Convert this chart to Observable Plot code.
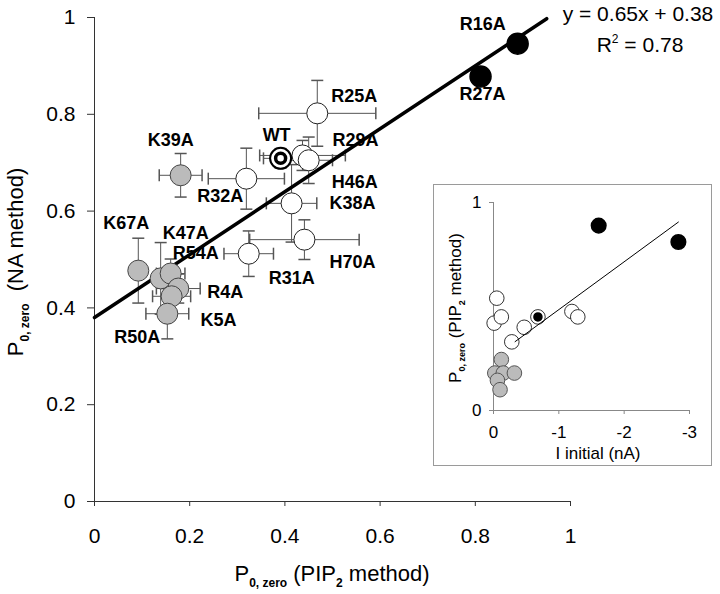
<!DOCTYPE html>
<html><head><meta charset="utf-8">
<script src="https://cdn.jsdelivr.net/npm/d3@7"></script>
<script src="https://cdn.jsdelivr.net/npm/@observablehq/plot@0.6"></script>
<style>
body{margin:0;background:#fff;}
#wrap{position:relative;width:720px;height:594px;font-family:"Liberation Sans",Arial,sans-serif;}
#inset{position:absolute;left:433px;top:184px;width:277px;height:280px;border:1px solid #9a9a9a;background:#fff;}
#inset svg,#main svg{display:block;}
</style></head><body><div id="wrap"><div id="main"></div><div id="inset"></div></div>
<script>
// ---------- main panel data ----------
const mutants  = ["R16A","R27A","R25A","WT","R29A","H46A","R32A","K38A","H70A","R31A","K39A","K67A","K47A","R54A","R4A","K5A","R50A"];
const pipValues = [0.889,0.811,0.468,0.391,0.437,0.450,0.319,0.414,0.441,0.324,0.181,0.092,0.139,0.160,0.176,0.162,0.153];
const naValues  = [0.946,0.878,0.802,0.709,0.715,0.705,0.667,0.616,0.541,0.512,0.674,0.477,0.461,0.471,0.440,0.424,0.388];
const pipErr    = [0.010,0.012,0.123,0.036,0.090,0.050,0.080,0.053,0.115,0.052,0.045,0.000,0.000,0.030,0.046,0.040,0.045];
const naErr     = [0.000,0.010,0.068,0.020,0.031,0.048,0.063,0.080,0.041,0.047,0.045,0.067,0.074,0.030,0.030,0.040,0.052];
const groups    = ["black","black","white","wt","white","white","white","white","white","white","gray","gray","gray","gray","gray","gray","gray"];
const fitSlope = 0.65, fitIntercept = 0.38, fitR2 = 0.78;
const fitRange = [0, 0.95];
const xTicks = [0,0.2,0.4,0.6,0.8,1];
const yTicks = [0,0.2,0.4,0.6,0.8,1];

// ---------- inset data ----------
const insetCurrent = [-1.61,-2.83,-0.05,-0.01,-0.12,-0.68,-0.47,-0.28,-1.20,-1.29,-0.12,-0.02,-0.15,-0.32,-0.06,-0.10];
const insetPo      = [0.889,0.810,0.540,0.420,0.450,0.450,0.400,0.330,0.476,0.450,0.245,0.180,0.180,0.180,0.145,0.100];
const insetGroups  = ["black","black","white","white","white","wt","white","white","white","white","gray","gray","gray","gray","gray","gray"];
const insetSlope = -0.23, insetIntercept = 0.255;
const insetFitRange = [-0.33, -2.83];
const insetXTicks = [0,-1,-2,-3];
const insetYTicks = [0,1];

// ---------- label placement (pixel offsets) ----------
const labelDx = [-35, 2, 37, -4, 53, 46, -26, 61, 48, 43, -10, -12, 25, 25, 47, 47, -30];
const labelDy = [-19, 18, -17, -23, -15, 22, 18, 0, 23, 25, -35, -47, -45, -20, 4, 24, 24];

const FONT = "'Liberation Sans', Arial, sans-serif";
const rows = mutants.map((m,i)=>({name:m,x:pipValues[i],y:naValues[i],ex:pipErr[i],ey:naErr[i],g:groups[i],dx:labelDx[i],dy:labelDy[i]}));
const capV = {draw(ctx,size){const r=Math.sqrt(size/Math.PI);ctx.moveTo(0,-r);ctx.lineTo(0,r);}};
const capH = {draw(ctx,size){const r=Math.sqrt(size/Math.PI);ctx.moveTo(-r,0);ctx.lineTo(r,0);}};
const fitLine = fitRange.map(x=>({x, y: fitSlope*x+fitIntercept}));
const exRows = rows.filter(d=>d.ex>0), eyRows = rows.filter(d=>d.ey>0);
const EB = "#555";

const main = Plot.plot({
  width:720, height:594, marginLeft:94, marginRight:150, marginTop:17, marginBottom:93,
  x:{domain:[0,1]}, y:{domain:[0,1]},
  style:{fontFamily:FONT, fontSize:"21px", color:"#000", background:"#fff", overflow:"visible"},
  marks:[
    Plot.axisX({ticks:xTicks, tickSize:5, tickPadding:22, label:null, tickFormat:d=>String(d), stroke:"#333"}),
    Plot.axisY({ticks:yTicks, tickSize:7, tickPadding:12, label:null, tickFormat:d=>String(d), stroke:"#333"}),
    Plot.ruleX([0],{stroke:"#333"}),
    Plot.ruleY([0],{stroke:"#333"}),
    // error bars
    Plot.link(exRows,{x1:d=>d.x-d.ex, x2:d=>d.x+d.ex, y1:"y", y2:"y", stroke:EB, strokeWidth:1}),
    Plot.link(eyRows,{x1:"x", x2:"x", y1:d=>d.y-d.ey, y2:d=>d.y+d.ey, stroke:EB, strokeWidth:1}),
    Plot.dot(exRows,{x:d=>d.x-d.ex, y:"y", symbol:capV, r:6, stroke:EB, fill:"none"}),
    Plot.dot(exRows,{x:d=>d.x+d.ex, y:"y", symbol:capV, r:6, stroke:EB, fill:"none"}),
    Plot.dot(eyRows,{x:"x", y:d=>d.y-d.ey, symbol:capH, r:6, stroke:EB, fill:"none"}),
    Plot.dot(eyRows,{x:"x", y:d=>d.y+d.ey, symbol:capH, r:6, stroke:EB, fill:"none"}),
    // white circles
    Plot.dot(rows.filter(d=>d.g==="white"||d.g==="wt"),{x:"x",y:"y",r:10.5,fill:"#fff",stroke:"#222",strokeWidth:1}),
    Plot.dot(rows.filter(d=>d.g==="wt"),{x:"x",y:"y",r:10.5,fill:"none",stroke:"#000",strokeWidth:2}),
    Plot.dot(rows.filter(d=>d.g==="wt"),{x:"x",y:"y",r:5,fill:"#fff",stroke:"#000",strokeWidth:3.5}),
    // regression line
    Plot.line(fitLine,{x:"x",y:"y",stroke:"#000",strokeWidth:3.5}),
    // gray + black
    Plot.dot(rows.filter(d=>d.g==="gray"),{x:"x",y:"y",r:10.5,fill:"#bbbbbb",stroke:"#444",strokeWidth:1}),
    Plot.dot(rows.filter(d=>d.g==="black"),{x:"x",y:"y",r:10.5,fill:"#000",stroke:"#000"}),
    // labels
    ...rows.map(d=>Plot.text([d],{x:"x",y:"y",text:"name",dx:d.dx,dy:d.dy,fontSize:18,fontWeight:"bold",fill:"#000"}))
  ]
});
document.getElementById("main").appendChild(main);

// titles with subscripts
function subTitle(svg, {x, y, rotate=0, size, sub, parts}){
  const t = d3.select(svg).append("text")
    .attr("transform", `translate(${x},${y}) rotate(${rotate})`)
    .attr("text-anchor","middle").attr("font-family",FONT).attr("font-size",size).attr("fill","#000");
  const sh = Math.round(size*0.25);
  parts.forEach(([s,isSub])=>{
    if(isSub) t.append("tspan").attr("font-size",sub).attr("font-weight","bold").attr("dy",sh).text(s);
    else t.append("tspan").attr("dy", t.selectAll("tspan").size()===0?0:-sh).text(s);
  });
}
const mainSvg = main.tagName.toLowerCase()==="svg"?main:main.querySelector("svg");
subTitle(mainSvg,{x:332,y:587,size:22,sub:12,parts:[["P"],["0, zero",true],[" (PIP"],["2",true],[" method)"]]});
subTitle(mainSvg,{x:29,y:262,rotate:-90,size:22,sub:12,parts:[["P"],["0, zero",true],["  (NA method)"]]});
// fit equation
d3.select(mainSvg).append("text").attr("x",638).attr("y",21).attr("text-anchor","middle")
  .attr("font-family",FONT).attr("font-size",21).attr("fill","#000").text(`y = ${fitSlope}x + ${fitIntercept}`);
const r2 = d3.select(mainSvg).append("text").attr("x",640).attr("y",52).attr("text-anchor","middle")
  .attr("font-family",FONT).attr("font-size",21).attr("fill","#000");
r2.append("tspan").text("R");
r2.append("tspan").attr("font-size",12).attr("dy",-9).text("2");
r2.append("tspan").attr("dy",9).text(` = ${fitR2}`);

// ---------- inset ----------
const irows = insetCurrent.map((c,i)=>({x:c,y:insetPo[i],g:insetGroups[i]}));
const insetLine = insetFitRange.map(x=>({x, y: insetSlope*x+insetIntercept}));
const inset = Plot.plot({
  width:277, height:280, marginLeft:59, marginRight:22, marginTop:17, marginBottom:55,
  x:{domain:[0,-3]}, y:{domain:[0,1]},
  style:{fontFamily:FONT, fontSize:"17px", color:"#000", background:"#fff", overflow:"visible"},
  marks:[
    Plot.axisX({ticks:insetXTicks, tickSize:4, tickPadding:11, label:null, tickFormat:d=>String(d), stroke:"#888"}),
    Plot.axisY({ticks:insetYTicks, tickSize:4, tickPadding:8, label:null, tickFormat:d=>String(d), stroke:"#888"}),
    Plot.ruleX([0],{stroke:"#888"}),
    Plot.ruleY([0],{stroke:"#888"}),
    Plot.dot(irows.filter(d=>d.g==="white"||d.g==="wt"),{x:"x",y:"y",r:7.3,fill:"#fff",stroke:"#333",strokeWidth:1}),
    Plot.dot(irows.filter(d=>d.g==="wt"),{x:"x",y:"y",r:4,fill:"#000",stroke:"#000"}),
    Plot.line(insetLine,{x:"x",y:"y",stroke:"#000",strokeWidth:1}),
    Plot.dot(irows.filter(d=>d.g==="gray"),{x:"x",y:"y",r:7.3,fill:"#bbbbbb",stroke:"#555",strokeWidth:1}),
    Plot.dot(irows.filter(d=>d.g==="black"),{x:"x",y:"y",r:7.3,fill:"#000",stroke:"#000"})
  ]
});
document.getElementById("inset").appendChild(inset);
const insetSvg = inset.tagName.toLowerCase()==="svg"?inset:inset.querySelector("svg");
d3.select(insetSvg).append("text").attr("x",164).attr("y",274).attr("text-anchor","middle")
  .attr("font-family",FONT).attr("font-size",17).attr("fill","#000").text("I initial (nA)");
subTitle(insetSvg,{x:31,y:123,rotate:-90,size:17,sub:9,parts:[["P"],["0, zero",true],[" (PIP"],["2",true],[" method)"]]});
</script></body></html>
